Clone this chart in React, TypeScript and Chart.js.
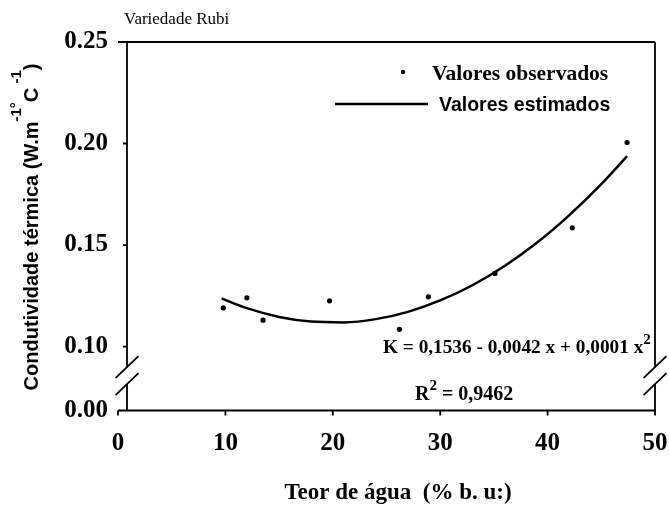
import React, { useEffect, useRef } from "react";
import { Chart, registerables } from "chart.js";

Chart.register(...registerables);

// Observed values (Teor de água %, condutividade térmica)
const OBS_X = [9.8, 12.0, 13.5, 19.7, 26.2, 28.9, 35.1, 42.3, 47.4];
const OBS_Y = [0.119, 0.124, 0.113, 0.1225, 0.1085, 0.1245, 0.136, 0.1585, 0.2005];

// Estimated curve
const FIT_X = [9.65, 12, 15, 18, 21, 24, 27, 30, 33, 36, 39, 42, 45, 47.4];
const FIT_Y = [0.1237, 0.1189, 0.1146, 0.1123, 0.1119, 0.1135, 0.1171, 0.1227, 0.1302, 0.1397, 0.1511, 0.1646, 0.18, 0.1938];

const X_TICKS = [0, 10, 20, 30, 40, 50];
// broken y axis: the "0.00" tick sits just below the break
const Y_TICKS = [0.0685, 0.1, 0.15, 0.2, 0.25];
const Y_TICK_LABELS = ["0.00", "0.10", "0.15", "0.20", "0.25"];
const Y_MIN = 0.0685;
const Y_MAX = 0.25;
const BREAK_HI = 0.0899;
const BREAK_LO = 0.0815;

const TITLE = "Variedade Rubi";
const LEGEND_OBS = "Valores observados";
const LEGEND_FIT = "Valores estimados";
const X_TITLE = "Teor de água  (% b. u:)";
const EQUATION = "K = 0,1536 - 0,0042 x + 0,0001 x";
const R2_VALUE = " = 0,9462";

const SERIF = "'Liberation Serif', 'Times New Roman', serif";
const SANS = "'Liberation Sans', Arial, sans-serif";

type Seg = { t: string; sup?: boolean };

function drawSegs(ctx: CanvasRenderingContext2D, segs: Seg[], x: number, y: number, font: string, supFont: string, raise: number, center: boolean) {
  let total = 0;
  for (const s of segs) {
    ctx.font = s.sup ? supFont : font;
    total += ctx.measureText(s.t).width;
  }
  let cx = center ? x - total / 2 : x;
  for (const s of segs) {
    ctx.font = s.sup ? supFont : font;
    ctx.fillText(s.t, cx, s.sup ? y - raise : y);
    cx += ctx.measureText(s.t).width;
  }
}

const framePlugin = {
  id: "framePlugin",
  afterDraw(chart: any) {
    const ctx: CanvasRenderingContext2D = chart.ctx;
    const { left, right, top, bottom } = chart.chartArea;
    const xs = chart.scales.x;
    const ys = chart.scales.y;
    const axisX = left + 9;
    const yHi = ys.getPixelForValue(BREAK_HI);
    const yLo = ys.getPixelForValue(BREAK_LO);
    ctx.save();
    ctx.strokeStyle = "#000";
    ctx.lineWidth = 1.8;
    ctx.beginPath();
    ctx.moveTo(left, top);
    ctx.lineTo(right, top);
    ctx.moveTo(left, bottom);
    ctx.lineTo(right, bottom);
    for (const vx of [axisX, right]) {
      ctx.moveTo(vx, top);
      ctx.lineTo(vx, yHi);
      ctx.moveTo(vx, yLo);
      ctx.lineTo(vx, bottom);
      for (const yy of [yHi, yLo]) {
        ctx.moveTo(vx - 11.5, yy + 11);
        ctx.lineTo(vx + 11.5, yy - 11);
      }
    }
    for (const v of Y_TICKS.slice(1)) {
      const py = ys.getPixelForValue(v);
      ctx.moveTo(axisX - 4, py);
      ctx.lineTo(axisX, py);
    }
    for (const v of X_TICKS) {
      const px = xs.getPixelForValue(v);
      ctx.moveTo(px, bottom);
      ctx.lineTo(px, bottom + 5);
    }
    ctx.stroke();

    // legend
    ctx.fillStyle = "#000";
    ctx.beginPath();
    ctx.arc(403, 72, 2.2, 0, Math.PI * 2);
    ctx.fill();
    ctx.lineWidth = 2.4;
    ctx.beginPath();
    ctx.moveTo(335, 104);
    ctx.lineTo(428, 104);
    ctx.stroke();
    ctx.textBaseline = "alphabetic";
    ctx.textAlign = "left";
    ctx.font = `bold 21.5px ${SERIF}`;
    ctx.fillText(LEGEND_OBS, 432, 80);
    ctx.font = `bold 19.5px ${SANS}`;
    ctx.fillText(LEGEND_FIT, 439, 111);

    // title
    ctx.font = `17px ${SERIF}`;
    ctx.fillText(TITLE, 124, 24);

    // equation and R2
    drawSegs(ctx, [{ t: EQUATION }, { t: "2", sup: true }], 383, 353, `bold 19.3px ${SERIF}`, `bold 15px ${SERIF}`, 9, false);
    drawSegs(ctx, [{ t: "R" }, { t: "2", sup: true }, { t: R2_VALUE }], 415, 400, `bold 20px ${SERIF}`, `bold 15px ${SERIF}`, 10, false);

    // x title
    ctx.textAlign = "center";
    ctx.font = `bold 23px ${SERIF}`;
    ctx.fillText(X_TITLE, 398, 499);

    // y title (rotated)
    ctx.textAlign = "left";
    ctx.translate(38, 227);
    ctx.rotate(-Math.PI / 2);
    drawSegs(
      ctx,
      [
        { t: "Condutividade térmica (W.m" },
        { t: "-1", sup: true },
        { t: "°", sup: true },
        { t: "C" },
        { t: " -1", sup: true },
        { t: ")" },
      ],
      0,
      0,
      `bold 20px ${SANS}`,
      `bold 15px ${SANS}`,
      17,
      true
    );
    ctx.restore();
  },
};

export default function App() {
  const ref = useRef<HTMLCanvasElement | null>(null);
  useEffect(() => {
    document.body.style.margin = "0";
    document.body.style.overflow = "hidden";
    const canvas = ref.current;
    if (!canvas) return;
    const chart = new Chart(canvas, {
      type: "scatter",
      data: {
        datasets: [
          {
            label: LEGEND_OBS,
            data: OBS_X.map((x, i) => ({ x, y: OBS_Y[i] })),
            pointRadius: 2.6,
            pointBackgroundColor: "#000",
            pointBorderWidth: 0,
            showLine: false,
          },
          {
            label: LEGEND_FIT,
            data: FIT_X.map((x, i) => ({ x, y: FIT_Y[i] })),
            showLine: true,
            pointRadius: 0,
            borderColor: "#000",
            borderWidth: 2.5,
            tension: 0.4,
            cubicInterpolationMode: "monotone",
          },
        ],
      },
      options: {
        responsive: false,
        animation: false,
        devicePixelRatio: 1,
        layout: { padding: { top: 42, right: 14, left: 0, bottom: 0 } },
        plugins: { legend: { display: false }, tooltip: { enabled: false } },
        scales: {
          x: {
            type: "linear",
            min: 0,
            max: 50,
            grid: { display: false },
            border: { display: false },
            afterBuildTicks: (s: any) => {
              s.ticks = X_TICKS.map((v) => ({ value: v }));
            },
            afterFit: (s: any) => {
              s.height = 95.5;
              s.paddingLeft = 0;
              s.paddingRight = 0;
            },
            ticks: {
              autoSkip: false,
              maxRotation: 0,
              padding: 10,
              color: "#000",
              font: { family: SERIF, size: 25, weight: "bold" },
            },
          },
          y: {
            type: "linear",
            min: Y_MIN,
            max: Y_MAX,
            grid: { display: false },
            border: { display: false },
            afterBuildTicks: (s: any) => {
              s.ticks = Y_TICKS.map((v) => ({ value: v }));
            },
            afterFit: (s: any) => {
              s.width = 118;
              s.paddingTop = 0;
              s.paddingBottom = 0;
            },
            ticks: {
              autoSkip: false,
              padding: 2,
              color: "#000",
              font: { family: SERIF, size: 25, weight: "bold" },
              callback: (_v: any, i: number) => Y_TICK_LABELS[i],
            },
          },
        },
      },
      plugins: [framePlugin],
    } as any);
    return () => chart.destroy();
  }, []);
  return <canvas ref={ref} width={669} height={506} style={{ display: "block" }} />;
}
